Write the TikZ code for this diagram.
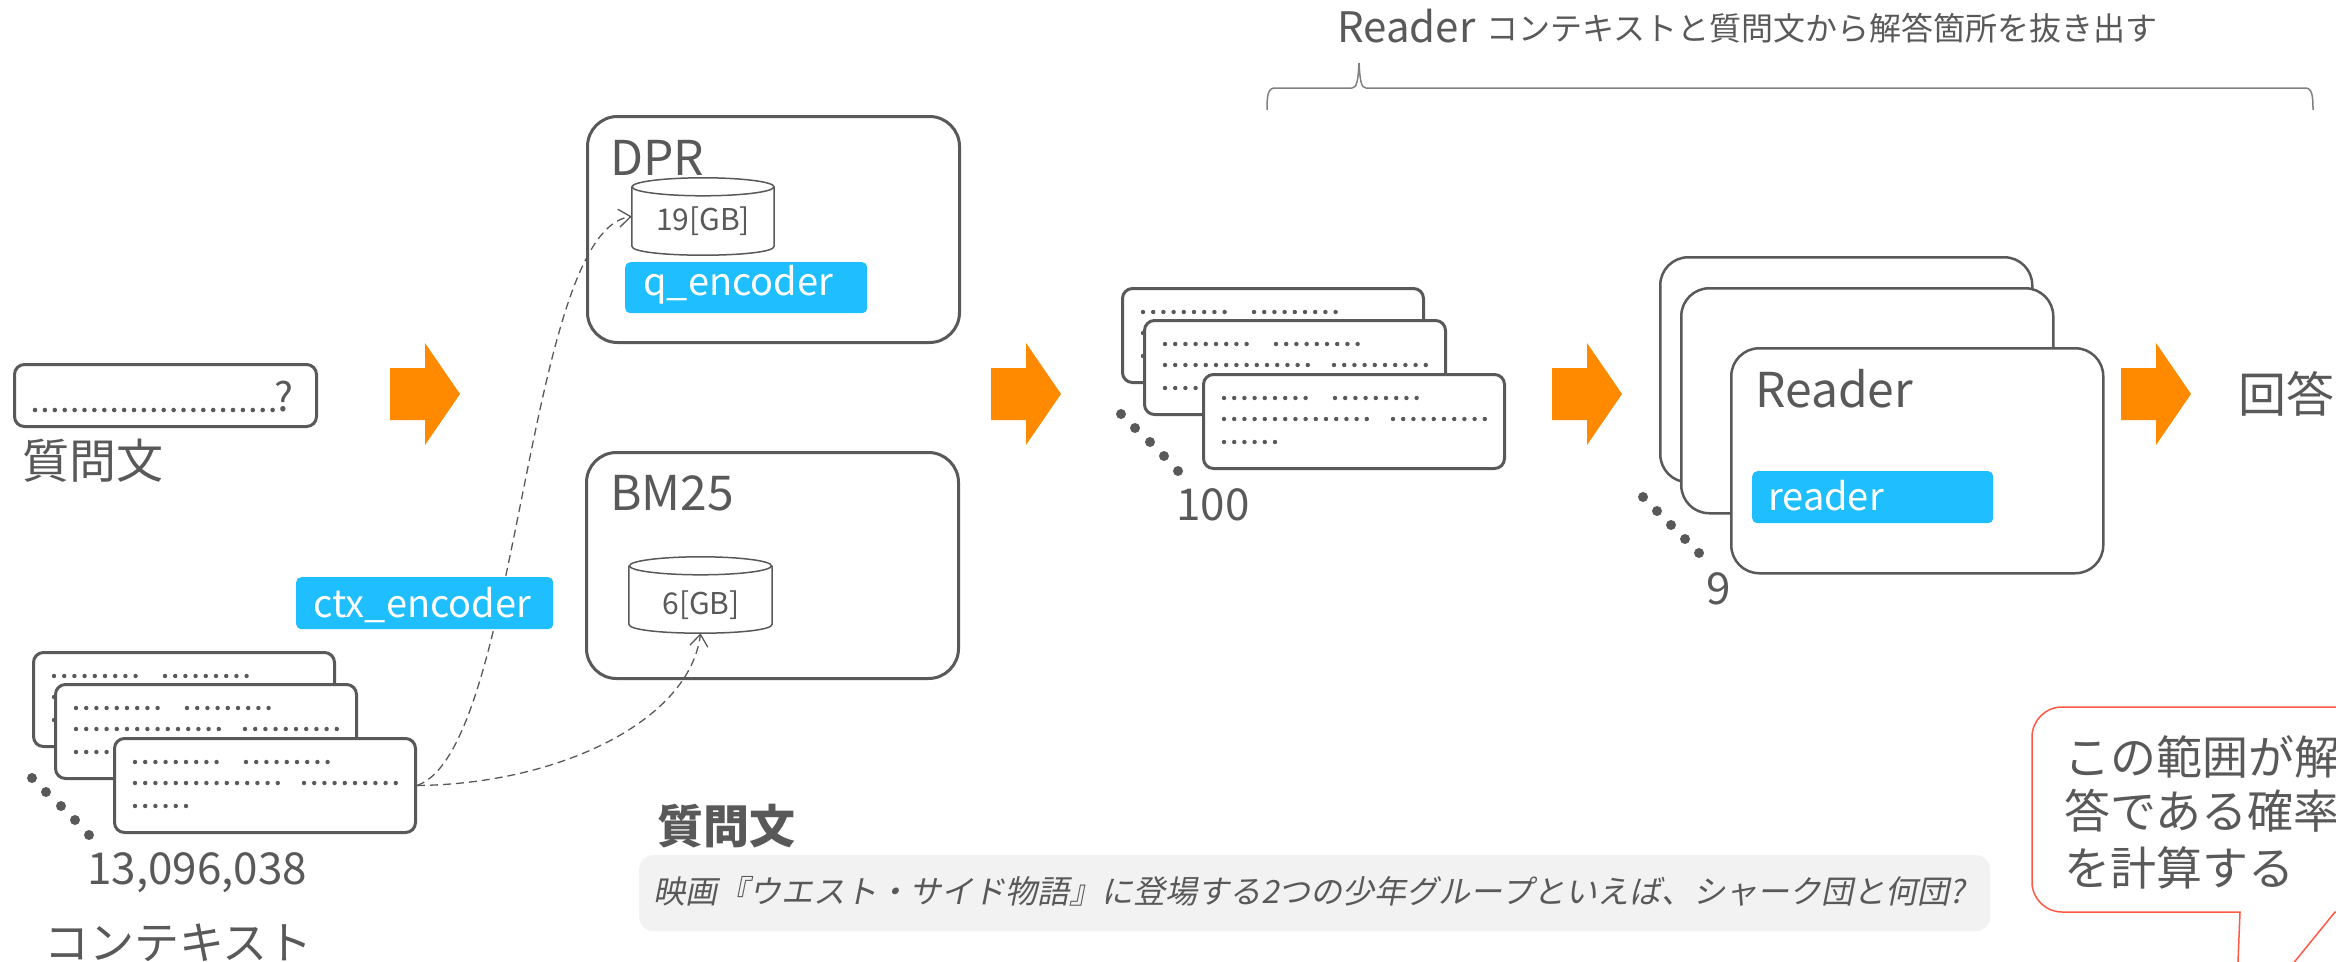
\documentclass[tikz,border=0pt]{standalone}
\usepackage{fontspec}
\setmainfont{Noto Sans CJK JP}
\newfontfamily\qfont[FakeSlant=0.2]{Noto Sans CJK JP}
\usetikzlibrary{arrows.meta}
\definecolor{txt}{HTML}{595959}
\definecolor{blu}{HTML}{1EBEFF}
\definecolor{org}{HTML}{FF8A00}
\definecolor{callred}{HTML}{FF5A45}
\definecolor{qbg}{HTML}{F2F2F2}
\definecolor{brc}{HTML}{808080}
\newcommand\fsz[1]{\fontsize{#1}{#1}\selectfont}
\newcommand\dotrow[3]{\foreach \k in {1,...,#3}{\fill[txt] ({#1+(\k-1)*10.2},#2) circle[radius=2.2pt];}}
\newcommand\cardtext[2]{%
  \dotrow{#1+22}{#2+25}{9}\dotrow{#1+133}{#2+25}{9}%
  \dotrow{#1+22}{#2+46}{15}\dotrow{#1+191}{#2+46}{10}%
  \dotrow{#1+22}{#2+69}{6}}
\newcommand\cardstack[4]{%
  \node[card] (#1a) at (#2,#3) {};
  \cardtext{#2}{#3}
  \node[card] (#1b) at (#2+22,#3+32) {};
  \cardtext{#2+22}{#3+32}
  \node[card] (#1c) at (#2+81,#3+86) {};
  \cardtext{#2+81}{#3+86}
  \foreach \dx/\dy in {0/127,14/141,29/155,43/169,57/184}{\fill[txt] (#2+\dx,#3+\dy) circle[radius=5pt];}
  \node[lbl, font=\fsz{44}, anchor=base west] (#1n) at (#2+55,#3+233) {#4};
}
\newcommand\orarrow[1]{\fill[org] (#1,368) -- ++(35,0) -- ++(0,-25) -- ++(35,51) -- ++(-35,51) -- ++(0,-25) -- ++(-35,0) -- cycle;}
\newcommand\cylinder[1]{%
  \draw[cyl] ([yshift=-9pt]#1.north west) -- ([yshift=9pt]#1.south west) .. controls ([yshift=-3pt]#1.south west) and ([yshift=-3pt]#1.south east) .. ([yshift=9pt]#1.south east) -- ([yshift=-9pt]#1.north east);
  \draw[cyl] ([yshift=-9pt]#1.north) ellipse[x radius=71pt, y radius=9pt];}
\tikzset{
  lbl/.style={text=txt, inner sep=0},
  card/.style={draw=txt, line width=3pt, fill=white, rounded corners=10pt, anchor=north west, minimum width=301pt, minimum height=94pt, inner sep=0},
  rcard/.style={draw=txt, line width=2.5pt, fill=white, rounded corners=28pt, anchor=north west, minimum width=372pt, minimum height=225pt, inner sep=0},
  bigbox/.style={draw=txt, line width=3pt, fill=white, rounded corners=30pt, anchor=north west, minimum width=372pt, minimum height=226pt, inner sep=0},
  bluebox/.style={fill=blu, rounded corners=5pt, anchor=north west, inner sep=0},
  wtxt/.style={text=white, inner sep=0, font=\fsz{38}, anchor=base west},
  dbnode/.style={minimum width=142pt, minimum height=77pt, inner sep=0},
  cyl/.style={draw=txt, line width=1.5pt},
  dashline/.style={draw=txt, line width=1.3pt, dash pattern=on 8pt off 5pt, -{Straight Barb[length=12pt,width=18pt]}},
}
\begin{document}
\begin{tikzpicture}[x=1pt,y=-1pt]
\useasboundingbox (0,0) rectangle (2336,961);
\fill[white] (0,0) rectangle (2336,961);

% top brace and title
\draw[brc, line width=1.5pt] (1267,110) .. controls (1267,95) and (1268,88) .. (1275,88) -- (1352,88) .. controls (1357,88) and (1358,80) .. (1359,63) .. controls (1360,80) and (1361,88) .. (1366,88) -- (2305,88) .. controls (2312,88) and (2313,95) .. (2313,110);
\node[lbl, font=\fsz{42}, anchor=base west] (toptitle) at (1337,42) {Reader};
\node[lbl, font=\fsz{32}, anchor=base west] (topdesc) at (1486,40) {コンテキストと質問文から解答箇所を抜き出す};

% question
\node[draw=txt, line width=3pt, rounded corners=10pt, minimum width=302pt, minimum height=62pt, anchor=north west, inner sep=0] (qbox) at (13,363) {};
\foreach \k in {1,...,25}{\fill[txt] ({35+(\k-1)*9.9},410) circle[radius=2.3pt];}
\node[lbl, font=\fsz{40}, anchor=base west] (qmark) at (274,411) {?};
\node[lbl, font=\fsz{47}, anchor=west] (qlabel) at (22,461) {質問文};

% context stack
\cardstack{ctx}{32}{651}{13,096,038}
\node[lbl, font=\fsz{45}, anchor=west] (ctxlabel) at (44,943) {コンテキスト};

% arrows
\orarrow{390}
\orarrow{991}
\orarrow{1552}
\orarrow{2121}

% DPR
\node[bigbox] (dpr) at (586,115) {};
\node[lbl, font=\fsz{48}, anchor=base west] (dprt) at (610,175) {DPR};
\node[dbnode] (dprdb) at (703,216.5) {};
\cylinder{dprdb}
\node[lbl, font=\fsz{30}] (dprgb) at (703,221) {19[GB]};
\node[bluebox, minimum width=242pt, minimum height=51pt] (qenc) at (625,262) {};
\node[wtxt] (qenct) at (643,295) {q\_encoder};

% BM25
\node[bigbox] (bm) at (585,451) {};
\node[lbl, font=\fsz{48}, anchor=base west] (bmt) at (610,510) {BM25};
\node[dbnode, minimum width=143pt, minimum height=76pt] (bmdb) at (700.5,595) {};
\cylinder{bmdb}
\node[lbl, font=\fsz{30}] (bmgb) at (701,605) {6[GB]};

% connectors
\draw[dashline] (ctxc.east) .. controls (520,750) and (525,230) .. (dprdb.west);
\draw[dashline] (ctxc.east) .. controls (560,784) and (690,720) .. (bmdb.south);

% ctx encoder
\node[bluebox, minimum width=257pt, minimum height=52pt] (cenc) at (296,577) {};
\node[wtxt] (cenct) at (313,617) {ctx\_encoder};

% 100 stack
\cardstack{ret}{1121}{287}{100}

% reader stack
\node[rcard] (r1) at (1659,256) {};
\node[rcard] (r2) at (1680,287) {};
\node[rcard] (r3) at (1730,347) {};
\node[lbl, font=\fsz{48}, anchor=base west] (rt) at (1755,407) {Reader};
\node[bluebox, minimum width=241pt, minimum height=52pt] (rbox) at (1752,471) {};
\node[wtxt] (rboxt) at (1768,510) {reader};
\foreach \px/\py in {1643/497,1657/511,1671/525,1685/539,1699/553}{\fill[txt] (\px,\py) circle[radius=5pt];}
\node[lbl, font=\fsz{44}, anchor=base west] (nine) at (1706,604) {9};
\node[lbl, font=\fsz{48}, anchor=west] (ans) at (2238,394) {回答};

% question example
\node[lbl, font=\bfseries\fsz{46}, anchor=west] (qhead) at (657,826) {質問文};
\node[fill=qbg, rounded corners=14pt, minimum width=1351pt, minimum height=76pt, anchor=north west, inner sep=0] (qbg) at (639,855) {};
\node[lbl, font=\qfont\fsz{32}, anchor=west] (qtext) at (653,891) {映画『ウエスト・サイド物語』に登場する2つの少年グループといえば、シャーク団と何団?};

% callout
\draw[callred, line width=1.5pt, fill=white] (2235,1035) -- (2240,912) -- (2062,912) arc[start angle=270, end angle=180, radius=30pt] -- (2032,737) arc[start angle=180, end angle=90, radius=30pt] -- (2450,707) -- (2450,912) -- (2335,912) -- cycle;
\node[lbl, font=\fsz{46}, anchor=west] (co1) at (2064,757) {この範囲が解};
\node[lbl, font=\fsz{46}, anchor=west] (co2) at (2064,811) {答である確率};
\node[lbl, font=\fsz{46}, anchor=west] (co3) at (2064,868) {を計算する};
\end{tikzpicture}
\end{document}
